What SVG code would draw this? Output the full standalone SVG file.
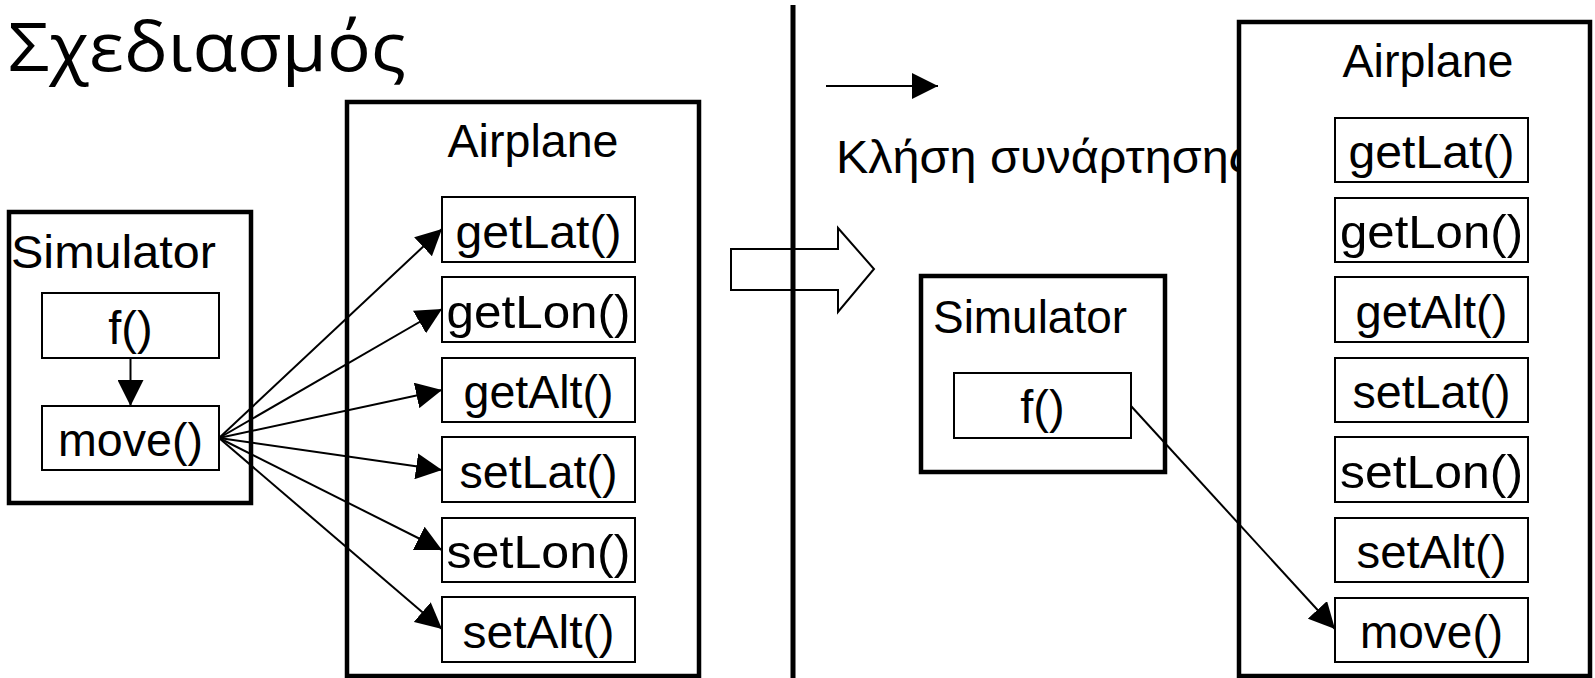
<svg xmlns="http://www.w3.org/2000/svg" width="1595" height="678" viewBox="0 0 1595 678">
<defs>
<style>
.box{fill:#fff;stroke:#000;stroke-width:4.5}
.m{fill:#fff;stroke:#000;stroke-width:2}
.t{font-family:"Liberation Sans",Arial,sans-serif;font-size:47px;fill:#000}
.c{text-anchor:middle}
.ln{stroke:#000;stroke-width:2;fill:none}
</style>
<marker id="ah" markerUnits="userSpaceOnUse" markerWidth="26" markerHeight="26" viewBox="0 0 24 24" refX="24" refY="12" orient="auto">
<path d="M0,0 L24,12 L0,24 Z" fill="#000"/>
</marker>
</defs>
<rect width="1595" height="678" fill="#fff"/>
<text id="title" x="8" y="71" font-family="'Open Sans',sans-serif" font-size="67" fill="#000" textLength="398" lengthAdjust="spacingAndGlyphs">Σχεδιασμός</text>

<g id="left-simulator">
<rect class="box" x="9" y="212" width="242" height="291"/>
<text class="t" x="11" y="268" textLength="205" lengthAdjust="spacingAndGlyphs">Simulator</text>
</g>
<g id="left-f">
<rect class="m" x="42" y="293" width="177" height="65"/>
<text class="t c" x="130.5" y="344">f()</text>
</g>
<g id="left-move">
<rect class="m" x="42" y="406" width="177" height="64"/>
<text class="t c" x="130.5" y="456" textLength="145" lengthAdjust="spacingAndGlyphs">move()</text>
</g>

<g id="left-airplane">
<rect class="box" x="347" y="102" width="352" height="574"/>
<text class="t c" x="533" y="157" textLength="171" lengthAdjust="spacingAndGlyphs">Airplane</text>
</g>
<g id="left-getLat"><rect class="m" x="442" y="197" width="193" height="65"/><text class="t c" x="538.5" y="248" textLength="166" lengthAdjust="spacingAndGlyphs">getLat()</text></g>
<g id="left-getLon"><rect class="m" x="442" y="277" width="193" height="65"/><text class="t c" x="538.5" y="328" textLength="184" lengthAdjust="spacingAndGlyphs">getLon()</text></g>
<g id="left-getAlt"><rect class="m" x="442" y="358" width="193" height="64"/><text class="t c" x="538.5" y="408" textLength="150" lengthAdjust="spacingAndGlyphs">getAlt()</text></g>
<g id="left-setLat"><rect class="m" x="442" y="437" width="193" height="65"/><text class="t c" x="538.5" y="488" textLength="158" lengthAdjust="spacingAndGlyphs">setLat()</text></g>
<g id="left-setLon"><rect class="m" x="442" y="518" width="193" height="64"/><text class="t c" x="538.5" y="568" textLength="184" lengthAdjust="spacingAndGlyphs">setLon()</text></g>
<g id="left-setAlt"><rect class="m" x="442" y="597" width="193" height="65"/><text class="t c" x="538.5" y="648" textLength="152" lengthAdjust="spacingAndGlyphs">setAlt()</text></g>

<g id="connectors">
<line class="ln" x1="130.5" y1="358" x2="130.5" y2="406" marker-end="url(#ah)"/>
<line class="ln" x1="219" y1="438" x2="442" y2="229" marker-end="url(#ah)"/>
<line class="ln" x1="219" y1="438" x2="442" y2="309" marker-end="url(#ah)"/>
<line class="ln" x1="219" y1="438" x2="442" y2="390" marker-end="url(#ah)"/>
<line class="ln" x1="219" y1="438" x2="442" y2="470" marker-end="url(#ah)"/>
<line class="ln" x1="219" y1="438" x2="442" y2="550" marker-end="url(#ah)"/>
<line class="ln" x1="219" y1="438" x2="442" y2="629" marker-end="url(#ah)"/>
</g>

<g id="transform-arrow">
<polygon points="731,249 838,249 838,228 874,269 838,312 838,290 731,290" fill="#fff" stroke="#000" stroke-width="2"/>
</g>
<line id="divider" x1="793" y1="5" x2="793" y2="678" stroke="#000" stroke-width="5"/>

<g id="legend">
<line class="ln" x1="826" y1="86" x2="938" y2="86" marker-end="url(#ah)"/>
<text class="t" x="836" y="173" textLength="416" lengthAdjust="spacingAndGlyphs">Κλήση συνάρτησης</text>
</g>

<g id="right-simulator">
<rect class="box" x="921" y="276" width="244" height="196"/>
<text class="t" x="933" y="333" textLength="194" lengthAdjust="spacingAndGlyphs">Simulator</text>
</g>
<g id="right-f">
<rect class="m" x="954" y="373" width="177" height="65"/>
<text class="t c" x="1042.5" y="423">f()</text>
</g>

<g id="right-airplane">
<rect class="box" x="1239" y="22" width="351" height="654"/>
<text class="t c" x="1428" y="77" textLength="171" lengthAdjust="spacingAndGlyphs">Airplane</text>
</g>
<g id="right-getLat"><rect class="m" x="1335" y="118" width="193" height="64"/><text class="t c" x="1431.5" y="168" textLength="166" lengthAdjust="spacingAndGlyphs">getLat()</text></g>
<g id="right-getLon"><rect class="m" x="1335" y="198" width="193" height="64"/><text class="t c" x="1431.5" y="248" textLength="183" lengthAdjust="spacingAndGlyphs">getLon()</text></g>
<g id="right-getAlt"><rect class="m" x="1335" y="277" width="193" height="65"/><text class="t c" x="1431.5" y="328" textLength="152" lengthAdjust="spacingAndGlyphs">getAlt()</text></g>
<g id="right-setLat"><rect class="m" x="1335" y="358" width="193" height="64"/><text class="t c" x="1431.5" y="408" textLength="158" lengthAdjust="spacingAndGlyphs">setLat()</text></g>
<g id="right-setLon"><rect class="m" x="1335" y="437" width="193" height="65"/><text class="t c" x="1431.5" y="488" textLength="183" lengthAdjust="spacingAndGlyphs">setLon()</text></g>
<g id="right-setAlt"><rect class="m" x="1335" y="518" width="193" height="64"/><text class="t c" x="1431.5" y="568" textLength="150" lengthAdjust="spacingAndGlyphs">setAlt()</text></g>
<g id="right-move"><rect class="m" x="1335" y="598" width="193" height="64"/><text class="t c" x="1431.5" y="648" textLength="143" lengthAdjust="spacingAndGlyphs">move()</text></g>

<g id="connectors-right">
<line class="ln" x1="1131" y1="406" x2="1335" y2="629" marker-end="url(#ah)"/>
</g>
</svg>
